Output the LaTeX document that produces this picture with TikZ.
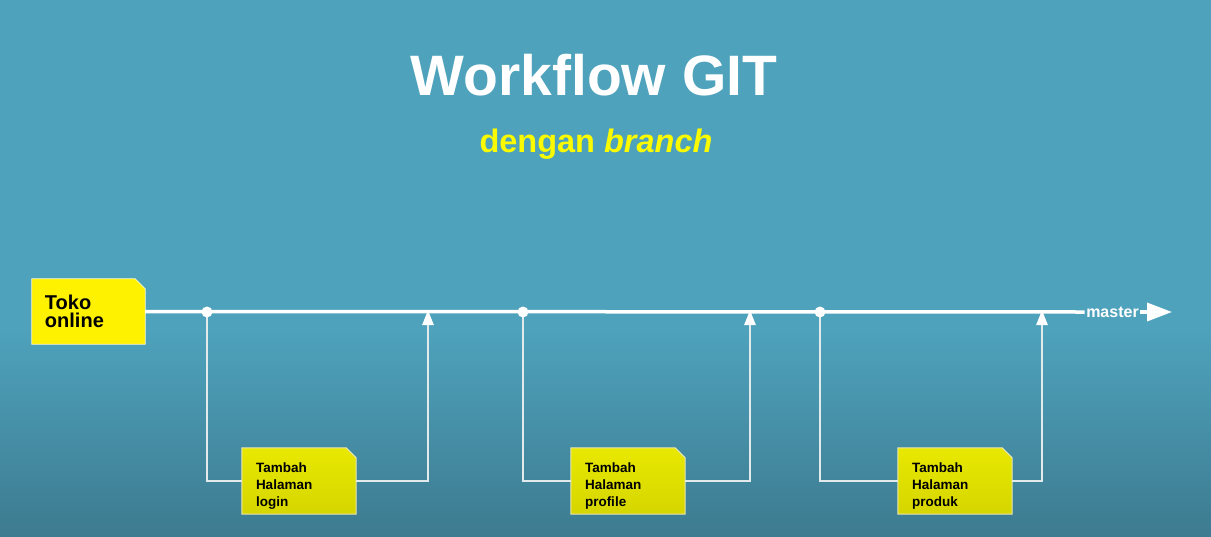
\documentclass[tikz,border=0pt]{standalone}
\usepackage{fontspec}
\setmainfont{Liberation Sans}
\usetikzlibrary{arrows.meta,backgrounds}
\definecolor{bgtop}{HTML}{4EA2BC}
\definecolor{bgbot}{HTML}{3D7B90}
\definecolor{subyellow}{HTML}{FAFA00}
\definecolor{branchc}{HTML}{E2EAEC}
\definecolor{cardtop}{HTML}{E8E800}
\definecolor{cardbot}{HTML}{D6D600}
\definecolor{cardedge}{HTML}{E6E6B4}
\newcommand{\cardbg}[1]{%
  (#1.south west) -- (#1.north west) -- ([xshift=-10pt]#1.north east)
  -- ([yshift=-10pt]#1.north east) -- (#1.south east) -- cycle}
\newcommand{\topstrut}{\rule{0pt}{19pt}}
\newcommand{\botstrut}{\rule[-3pt]{0pt}{3pt}}
\tikzset{
  mainline/.style={draw=white, line width=3.5pt},
  branchline/.style={draw=branchc, line width=2.5pt},
  uptip/.style={-{Triangle[length=15pt,width=11pt,color=white]}},
  commit/.style={circle, fill=white, inner sep=0pt, minimum size=11pt},
  card/.style={minimum width=114pt, minimum height=66pt, inner xsep=14pt,
    inner ysep=0pt, text width=86pt, align=left, text=black,
    font=\bfseries\fontsize{13.5}{17}\selectfont},
  tokobox/.style={minimum width=113pt, minimum height=65pt, inner xsep=13pt,
    inner ysep=0pt, text width=87pt, align=left, text=black,
    font=\bfseries\fontsize{20}{18}\selectfont},
}
\begin{document}
\begin{tikzpicture}[x=1pt,y=-1pt]
\useasboundingbox (0,0) rectangle (1211,536);
\begin{scope}[on background layer]
  \fill[bgtop] (0,0) rectangle (1211,536);
  \shade[top color=bgtop,bottom color=bgbot] (0,330) rectangle (1211,536);
\end{scope}

% titles
\node[font=\bfseries\fontsize{57}{60}\selectfont, text=white, anchor=base]
  (title) at (594,95) {Workflow GIT};
\node[font=\bfseries\fontsize{32.5}{36}\selectfont, text=subyellow, anchor=base]
  (sub) at (596,152) {dengan \textit{branch}};

% nodes
\node[tokobox] (toko) at (88.5,311.5) {Toko\\online};
\node[font=\bfseries\fontsize{16}{18}\selectfont, text=white, inner xsep=1.5pt, inner ysep=1pt]
  (master) at (1112.5,312) {master};
\coordinate (tip) at (1172,312);

\node[card] (b1) at (299,481) {\topstrut Tambah\\Halaman\\login\botstrut};
\node[card] (b2) at (628,481) {\topstrut Tambah\\Halaman\\profile\botstrut};
\node[card] (b3) at (955,481) {\topstrut Tambah\\Halaman\\produk\botstrut};

\begin{scope}[on background layer]
  \path[fill=yellow, draw=white!80!yellow, line width=0.8pt] \cardbg{toko};
  \foreach \b in {b1,b2,b3}
    \path[top color=cardtop, bottom color=cardbot, draw=cardedge, line width=1pt] \cardbg{\b};
\end{scope}

\coordinate (m1) at (428,310);
\coordinate (m2) at (750,310);
\coordinate (m3) at (1042,310);

% branch connectors
\draw[branchline] (207,312) coordinate (c1p) |- (b1.west);
\draw[branchline] (523,312) coordinate (c2p) |- (b2.west);
\draw[branchline] (820,312) coordinate (c3p) |- (b3.west);
\draw[branchline, uptip] (b1.east) -| (m1);
\draw[branchline, uptip] (b2.east) -| (m2);
\draw[branchline, uptip] (b3.east) -| (m3);

% master line
\draw[mainline] (toko.east) -- (master.west);
\draw[mainline, -{Triangle[length=25pt,width=18pt]}] (master.east) -- (tip);

% commits
\node[commit] (c1) at (c1p) {};
\node[commit] (c2) at (c2p) {};
\node[commit] (c3) at (c3p) {};
\end{tikzpicture}
\end{document}
